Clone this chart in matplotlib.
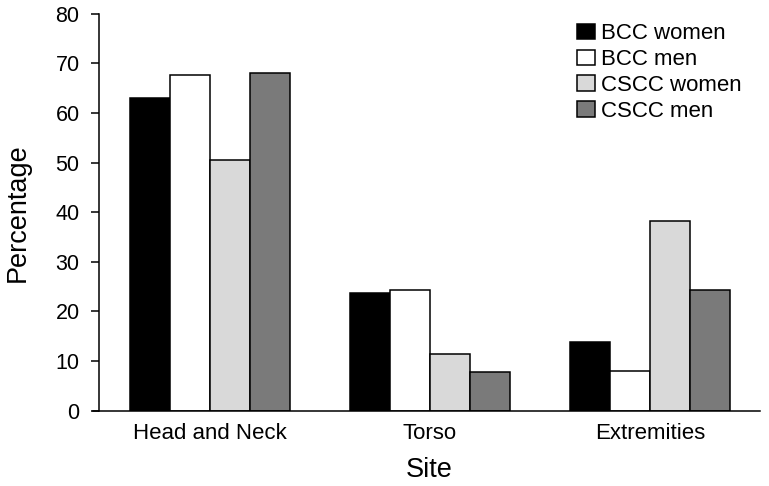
import matplotlib.pyplot as plt
import numpy as np

plt.rcParams['font.family'] = ['Liberation Sans', 'DejaVu Sans']

# data
sites = ["Head and Neck", "Torso", "Extremities"]
series_names = ["BCC women", "BCC men", "CSCC women", "CSCC men"]
bcc_women = [62.9, 23.7, 13.8]
bcc_men = [67.6, 24.3, 8.0]
cscc_women = [50.5, 11.4, 38.2]
cscc_men = [68.0, 7.8, 24.3]
colors = ["#000000", "#ffffff", "#d9d9d9", "#7a7a7a"]

fig = plt.figure(figsize=(7.69, 4.86), dpi=100)
ax = fig.add_axes([0.1287, 0.155, 0.8593, 0.817])

x = np.arange(len(sites))
width = 40 / 220
values = [bcc_women, bcc_men, cscc_women, cscc_men]
for i, (name, vals) in enumerate(zip(series_names, values)):
    ax.bar(x + (i - 1.5) * width, vals, width, color=colors[i],
           edgecolor="black", linewidth=1.1, label=name)

ax.set_xlim(-0.505, 2.5)
ax.set_ylim(0, 80)
ax.set_yticks(range(0, 81, 10))
ax.set_xticks(x)
ax.set_xticklabels(sites)
ax.tick_params(axis="y", labelsize=15.5, length=6, width=1.1, direction="out", pad=8)
ax.tick_params(axis="x", labelsize=16, length=0, pad=9)
ax.spines["top"].set_visible(False)
ax.spines["right"].set_visible(False)
ax.spines["left"].set_linewidth(1.1)
ax.spines["bottom"].set_linewidth(1.1)
ax.spines["bottom"].set_bounds(-0.532, 2.5)

ax.set_ylabel("Percentage", fontsize=19.5, labelpad=18)
ax.set_xlabel("Site", fontsize=19.5, labelpad=9)

ax.legend(loc="upper left", bbox_to_anchor=(575 / 769, 1 - 21 / 486),
          bbox_transform=fig.transFigure, frameon=False, fontsize=16,
          handlelength=0.78, handleheight=0.7, handletextpad=0.3,
          labelspacing=0.22, borderaxespad=0, borderpad=0.1)

fig.savefig("out.png", dpi=100)
